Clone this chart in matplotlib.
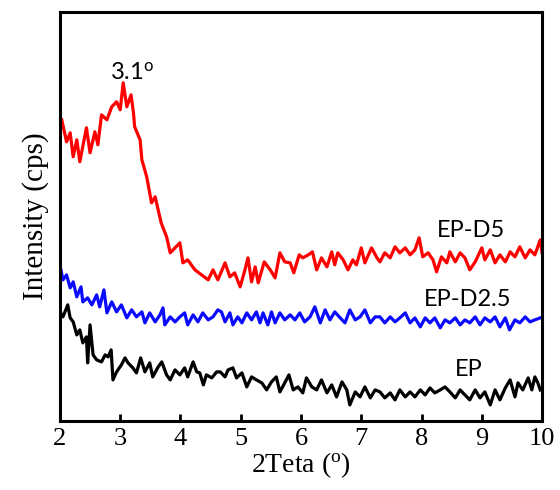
import numpy as np
import matplotlib
matplotlib.use('Agg')
import matplotlib.pyplot as plt

plt.rcParams['font.family'] = ['Liberation Serif', 'DejaVu Serif']
plt.rcParams['axes.unicode_minus'] = False

# 2Teta (deg) and intensity (cps) for each sample
ep_d5_x = [2.03, 2.11, 2.17, 2.22, 2.28, 2.33, 2.44, 2.50, 2.58, 2.63, 2.69, 2.78, 2.86, 2.94, 3.00,
           3.05, 3.11, 3.18, 3.22, 3.24, 3.33, 3.36, 3.44, 3.52, 3.58, 3.68, 3.77, 3.83, 3.99, 4.04,
           4.12, 4.24, 4.46, 4.54, 4.62, 4.74, 4.82, 4.90, 4.99, 5.07, 5.12, 5.18, 5.24, 5.29, 5.39,
           5.49, 5.57, 5.65, 5.73, 5.82, 5.88, 5.97, 6.03, 6.12, 6.19, 6.26, 6.34, 6.43, 6.51, 6.56,
           6.61, 6.70, 6.78, 6.86, 6.92, 7.00, 7.06, 7.17, 7.26, 7.31, 7.39, 7.48, 7.56, 7.64, 7.73,
           7.81, 7.89, 7.96, 8.02, 8.11, 8.19, 8.25, 8.33, 8.42, 8.47, 8.56, 8.64, 8.72, 8.80, 8.89,
           9.00, 9.05, 9.14, 9.22, 9.30, 9.39, 9.47, 9.55, 9.63, 9.72, 9.80, 9.88, 9.97, 10.00]
ep_d5_y = [301, 279, 288, 264, 281, 259, 293, 268, 289, 276, 306, 301, 314, 319, 311,
           338, 314, 326, 308, 294, 281, 261, 244, 218, 224, 198, 184, 168, 178, 158,
           161, 151, 141, 151, 141, 158, 144, 148, 134, 151, 163, 139, 154, 138, 159,
           151, 143, 168, 159, 158, 148, 166, 163, 166, 169, 151, 163, 154, 169, 156,
           168, 161, 151, 161, 156, 173, 158, 173, 163, 159, 168, 163, 174, 168, 173,
           166, 171, 183, 164, 168, 161, 149, 164, 158, 169, 159, 168, 163, 151, 159,
           173, 161, 171, 158, 166, 159, 169, 164, 174, 163, 171, 166, 181, 168]

ep_d25_x = [2.00, 2.05, 2.11, 2.17, 2.22, 2.28, 2.35, 2.38, 2.46, 2.53, 2.61, 2.66, 2.73, 2.78, 2.86,
            2.94, 3.02, 3.11, 3.19, 3.27, 3.36, 3.41, 3.49, 3.58, 3.66, 3.71, 3.74, 3.83, 3.91, 3.99,
            4.07, 4.12, 4.21, 4.29, 4.37, 4.46, 4.54, 4.62, 4.68, 4.74, 4.82, 4.87, 4.95, 5.02, 5.10,
            5.18, 5.26, 5.32, 5.37, 5.45, 5.51, 5.57, 5.65, 5.73, 5.82, 5.90, 5.98, 6.06, 6.15, 6.23,
            6.32, 6.40, 6.48, 6.56, 6.65, 6.73, 6.81, 6.90, 6.98, 7.06, 7.15, 7.23, 7.31, 7.39, 7.48,
            7.56, 7.64, 7.73, 7.81, 7.89, 7.98, 8.06, 8.14, 8.22, 8.31, 8.39, 8.47, 8.56, 8.64, 8.72,
            8.80, 8.89, 8.97, 9.05, 9.14, 9.22, 9.30, 9.39, 9.46, 9.55, 9.63, 9.72, 9.80, 9.88, 9.97]
ep_d25_y = [156, 141, 146, 133, 139, 124, 134, 119, 123, 116, 126, 114, 131, 108, 119,
            109, 116, 103, 111, 104, 109, 98, 108, 99, 106, 113, 96, 104, 99, 104,
            108, 96, 106, 99, 108, 101, 104, 111, 109, 99, 108, 96, 104, 98, 108,
            101, 109, 98, 108, 96, 109, 98, 108, 101, 106, 101, 108, 99, 104, 114,
            98, 111, 101, 109, 103, 98, 111, 101, 104, 111, 98, 104, 104, 98, 104,
            99, 103, 108, 98, 103, 94, 103, 98, 103, 93, 101, 98, 103, 96, 101,
            98, 104, 96, 103, 99, 104, 94, 103, 91, 101, 98, 104, 99, 101, 103]

ep_x = [2.00, 2.05, 2.13, 2.17, 2.22, 2.28, 2.33, 2.38, 2.44, 2.46, 2.50, 2.55, 2.61, 2.69, 2.75,
        2.80, 2.85, 2.88, 2.94, 3.02, 3.08, 3.13, 3.21, 3.27, 3.34, 3.41, 3.49, 3.54, 3.63, 3.69,
        3.77, 3.83, 3.91, 3.99, 4.07, 4.12, 4.21, 4.27, 4.32, 4.38, 4.43, 4.52, 4.60, 4.66, 4.74,
        4.79, 4.87, 4.93, 5.02, 5.10, 5.18, 5.26, 5.35, 5.43, 5.51, 5.59, 5.65, 5.73, 5.80, 5.87,
        5.95, 6.03, 6.09, 6.18, 6.26, 6.34, 6.43, 6.51, 6.59, 6.68, 6.76, 6.81, 6.90, 6.98, 7.06,
        7.15, 7.23, 7.31, 7.39, 7.48, 7.56, 7.64, 7.73, 7.81, 7.89, 7.98, 8.06, 8.14, 8.22, 8.31,
        8.39, 8.47, 8.56, 8.64, 8.72, 8.80, 8.89, 8.97, 9.05, 9.14, 9.22, 9.30, 9.39, 9.47, 9.55,
        9.60, 9.68, 9.77, 9.83, 9.88, 9.93, 9.97]
ep_y = [109, 104, 116, 103, 99, 86, 91, 78, 84, 58, 96, 66, 61, 59, 66,
        64, 71, 41, 49, 56, 63, 58, 53, 48, 63, 49, 58, 44, 54, 59,
        46, 41, 51, 46, 53, 44, 59, 49, 48, 36, 46, 43, 49, 49, 44,
        51, 53, 43, 48, 34, 44, 41, 38, 31, 39, 44, 29, 38, 46, 31,
        34, 28, 43, 34, 31, 41, 28, 36, 24, 39, 31, 16, 29, 24, 34,
        23, 31, 29, 23, 28, 21, 31, 24, 29, 24, 31, 26, 33, 28, 31,
        34, 29, 23, 31, 26, 21, 31, 23, 29, 16, 31, 21, 33, 41, 24,
        38, 31, 43, 31, 44, 38, 31]

fig = plt.figure(figsize=(5.6, 4.9), dpi=100)
ax = fig.add_axes([0.107, 0.141, 0.861, 0.835])

ax.plot(ep_d5_x, ep_d5_y, color='#ff0000', lw=2.3)
ax.plot(ep_d25_x, ep_d25_y, color='#0a0aff', lw=2.3)
ax.plot(ep_x, ep_y, color='black', lw=2.3)

ax.set_xlim(2, 10)
ax.set_ylim(0, 409)
ax.set_xticks(range(2, 11))
ax.set_yticks([])
ax.tick_params(axis='x', direction='in', length=5, width=2, labelsize=19, pad=5)
for s in ax.spines.values():
    s.set_linewidth(2.2)

ax.set_xlabel(r'2Teta ($\mathregular{^o}$)', fontsize=20, labelpad=0)
ax.set_ylabel('Intensity (cps)', fontsize=21, labelpad=8)

lab = dict(family=['Lato', 'DejaVu Sans'], fontsize=17, ha='center', va='center')
ax.text(8.82, 190, 'EP-D5', **lab)
ax.text(8.77, 121, 'EP-D2.5', **lab)
ax.text(8.78, 51, 'EP', **lab)
ax.text(3.19, 341, r'3.1$\mathregular{^o}$', family=['Lato', 'DejaVu Sans'],
        fontsize=17, ha='center', va='baseline')

plt.savefig('out.png', dpi=100)
